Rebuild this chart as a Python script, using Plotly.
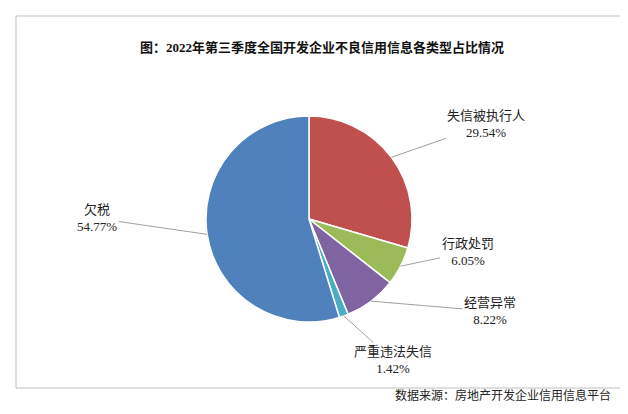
import math
import plotly.graph_objects as go

labels = ["失信被执行人", "行政处罚", "经营异常", "严重违法失信", "欠税"]
values = [29.54, 6.05, 8.22, 1.42, 54.77]
colors = ["#C0504D", "#9BBB59", "#8064A2", "#4BACC6", "#4F81BD"]

W, H = 628, 414
cx, cy, r = 301, 211, 103
# text offsets (pixels) from slice edge point
offsets = [(95, -33), (67, -14), (119, 10), (49, 44), (-110, -16)]

fig = go.Figure(go.Pie(
    labels=labels, values=values, sort=False, direction="clockwise", rotation=0,
    marker=dict(colors=colors, line=dict(color="white", width=1.5)),
    textinfo="none", hoverinfo="label+percent", showlegend=False,
    domain=dict(x=[(cx - r) / W, (cx + r) / W], y=[1 - (cy + r) / H, 1 - (cy - r) / H]),
))

total = sum(values)
cum = 0
anns = []
for lab, v, (ox, oy) in zip(labels, values, offsets):
    mid = (cum + v / 2) / total * 2 * math.pi
    cum += v
    ex = cx + r * math.sin(mid)
    ey = cy - r * math.cos(mid)
    anns.append(dict(x=ex / W, y=1 - ey / H, xref="paper", yref="paper",
                     ax=ox, ay=oy, showarrow=True, arrowhead=0, arrowwidth=0.8,
                     arrowcolor="#888888", standoff=0,
                     text=f"{lab}<br>{v:.2f}%", align="center",
                     font=dict(size=13, color="#222", family="Liberation Serif, Noto Sans CJK SC")))

anns.append(dict(x=0.5, y=1 - 30 / H, xref="paper", yref="paper", showarrow=False,
                 text="<b>图：2022年第三季度全国开发企业不良信用信息各类型占比情况</b>",
                 font=dict(size=13, color="#111", family="Liberation Serif, Noto Sans CJK SC")))
anns.append(dict(x=605 / W, y=1 - 397 / H, xref="paper", yref="paper", showarrow=False,
                 xanchor="right", text="数据来源：房地产开发企业信用信息平台",
                 font=dict(size=12, color="#222", family="Noto Sans CJK SC")))

fig.update_layout(
    width=W, height=H, margin=dict(l=0, r=0, t=0, b=0),
    paper_bgcolor="white", plot_bgcolor="white", annotations=anns,
    shapes=[dict(type="rect", xref="paper", yref="paper", x0=8 / W, x1=620 / W,
                 y0=1 - 380 / H, y1=1 - 8 / H, line=dict(color="#BFBFBF", width=1))],
)
fig.write_html("out.html")
